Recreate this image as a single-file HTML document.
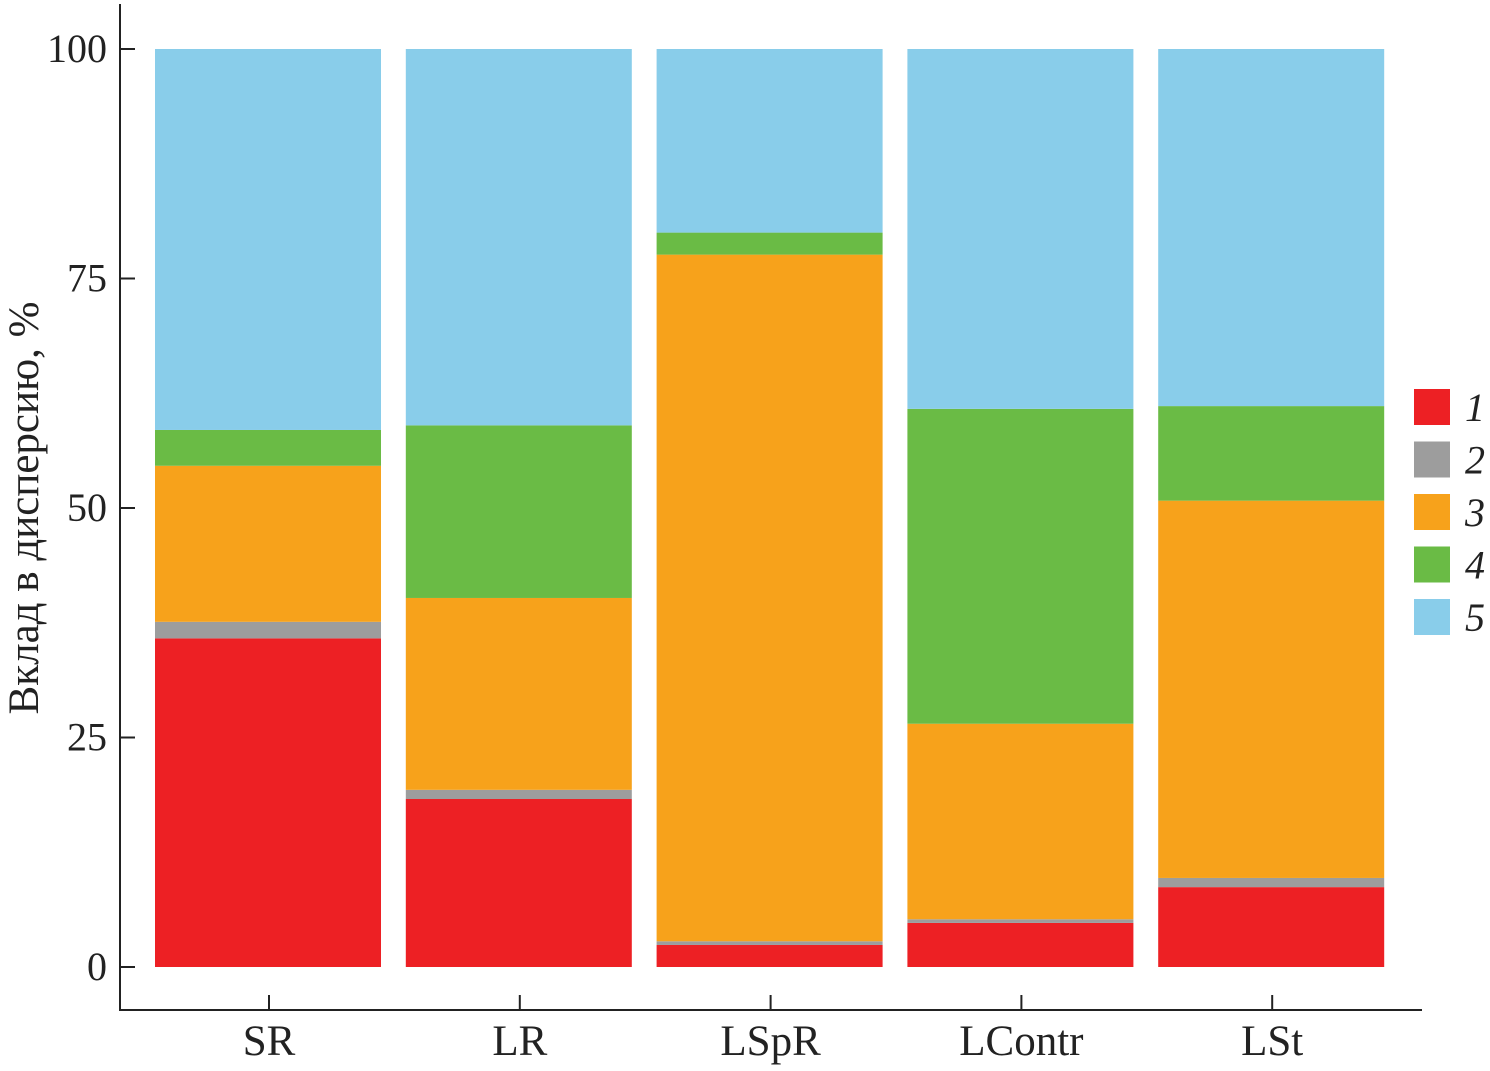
<!DOCTYPE html>
<html><head><meta charset="utf-8">
<style>
html,body{margin:0;padding:0;background:#fff;}
svg{display:block;font-family:"Liberation Serif","DejaVu Serif",serif;}
</style></head>
<body>
<svg id="chart" width="1490" height="1071" viewBox="0 0 1490 1071">
<g id="plot"></g>
<line x1="120" y1="4" x2="120" y2="1010" stroke="#222" stroke-width="2"/>
<line x1="119" y1="1010" x2="1422" y2="1010" stroke="#222" stroke-width="2"/>
<text transform="translate(38,508) rotate(-90)" text-anchor="middle" font-size="43" fill="#222">Вклад в дисперсию, %</text>
<g id="legend"></g>
</svg>
<script>
const categories = ["SR","LR","LSpR","LContr","LSt"];
const series1 = [35.8, 18.3, 2.4, 4.8, 8.7];
const series2 = [1.8, 1.0, 0.4, 0.4, 1.0];
const series3 = [17.0, 20.9, 74.8, 21.3, 41.1];
const series4 = [3.9, 18.8, 2.4, 34.3, 10.3];
const series5 = [41.5, 41.0, 20.0, 39.2, 38.9];
const seriesNames = ["1","2","3","4","5"];
const yTicks = [0,25,50,75,100];

const colors = ["#ED2024","#9D9D9D","#F7A21B","#6ABB45","#89CDEA"];
const allSeries = [series1,series2,series3,series4,series5];
const NS = "http://www.w3.org/2000/svg";
const svg = document.getElementById("chart");
const plot = document.getElementById("plot");
const legend = document.getElementById("legend");
const y = v => 967 - v * 9.18;
const xCenter = i => 268 + i * 250.8;
const barW = 226;

function mk(tag, attrs, parent){const e=document.createElementNS(NS,tag);for(const k in attrs)e.setAttribute(k,attrs[k]);parent.appendChild(e);return e;}

categories.forEach((c,i)=>{
  let cum=0;
  allSeries.forEach((s,j)=>{
    const v=s[i];
    const r=mk("rect",{x:xCenter(i)-barW/2,y:y(cum+v),width:barW,height:v*9.18,fill:colors[j]},plot);
    
    
    cum+=v;
  });
  const t=mk("line",{x1:xCenter(i)+1,x2:xCenter(i)+1,y1:995,y2:1010,stroke:"#222","stroke-width":2},svg);
  
  
  const l=mk("text",{x:xCenter(i)+1,y:1055,"text-anchor":"middle","font-size":43,fill:"#222"},svg);
  l.textContent=c;
  
  
});
yTicks.forEach(v=>{
  const t=mk("line",{x1:120,x2:135,y1:y(v),y2:y(v),stroke:"#222","stroke-width":2},svg);
  
  
  const l=mk("text",{x:107,y:y(v)+13,"text-anchor":"end","font-size":40,fill:"#222"},svg);
  l.textContent=v;
  
  
});
seriesNames.forEach((n,j)=>{
  const yy=389+j*52.5;
  const r=mk("rect",{x:1414,y:yy,width:36,height:36,fill:colors[j]},legend);
  
  
  const l=mk("text",{x:1465,y:yy+32,"font-size":40,"font-style":"italic",fill:"#222"},legend);
  l.textContent=n;
  
  
});
</script>
</body></html>
